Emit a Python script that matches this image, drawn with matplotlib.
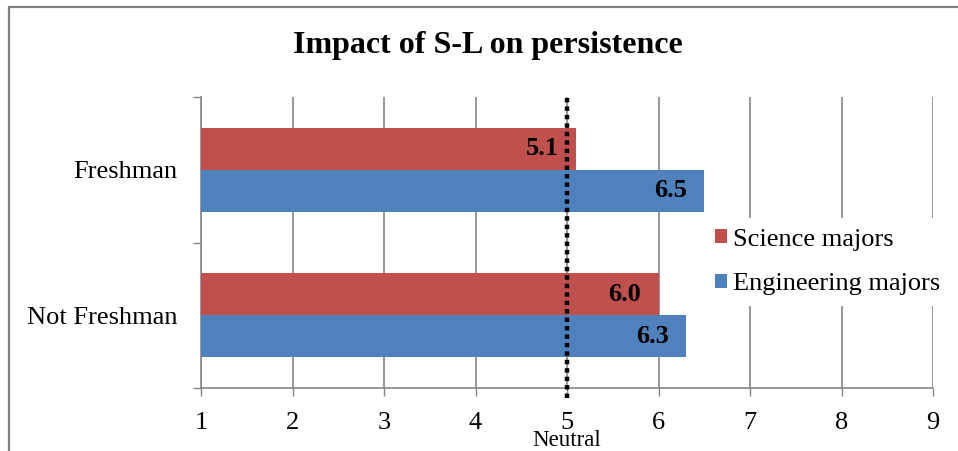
import numpy as np
import matplotlib
matplotlib.use("Agg")
import matplotlib.pyplot as plt
from matplotlib.patches import Rectangle
from matplotlib.transforms import blended_transform_factory

categories = ["Freshman", "Not Freshman"]
series_names = ["Science majors", "Engineering majors"]
science = [5.1, 6.0]
engineering = [6.5, 6.3]
x_ticks = [1, 2, 3, 4, 5, 6, 7, 8, 9]
neutral = 5

RED = "#C0504D"
BLUE = "#4F81BD"
GRAY = "#868686"


def main():
    plt.rcParams["font.family"] = ["Liberation Serif", "DejaVu Serif"]

    fig = plt.figure(figsize=(9.58, 4.51), dpi=100)
    ax = fig.add_axes([201 / 958, 1 - 388 / 451, 732 / 958, 291 / 451])

    # outer chart border (only top and left visible in the crop)
    fig.patches.append(Rectangle((8.5 / 958, -0.1), 1.2, 1.1 - 6.5 / 451,
                                 transform=fig.transFigure, fill=False,
                                 edgecolor="#808080", linewidth=1.6))

    y = np.arange(len(categories))
    h = 0.29
    bars_s = ax.barh(y - h / 2, np.array(science) - 1, height=h, left=1,
                     color=RED, label=series_names[0], zorder=3)
    bars_e = ax.barh(y + h / 2, np.array(engineering) - 1, height=h, left=1,
                     color=BLUE, label=series_names[1], zorder=3)

    for bars, vals in ((bars_s, science), (bars_e, engineering)):
        for b, v in zip(bars, vals):
            ax.annotate(f"{v:.1f}", (v, b.get_y() + b.get_height() / 2),
                        xytext=(-12.5, 0), textcoords="offset points",
                        ha="right", va="center", fontsize=19,
                        fontweight="bold", zorder=5)

    ax.axvline(neutral, ymin=-0.035, ymax=1, color="black", lw=3.2,
               linestyle=(0, (1, 0.9)), clip_on=False, zorder=4)
    ax.text(neutral, 1 - 446 / 451, "Neutral", fontsize=16.5,
            ha="center", va="baseline",
            transform=blended_transform_factory(ax.transData, fig.transFigure))

    ax.set_xlim(1, 9)
    ax.set_ylim(1.5, -0.5)
    ax.set_xticks(x_ticks)
    ax.set_xticklabels([str(t) for t in x_ticks])
    ax.set_yticks([-0.5, 0.5, 1.5])
    ax.set_yticklabels([])
    ax.set_yticks(y, minor=True)
    ax.set_yticklabels(categories, minor=True)

    ax.tick_params(axis="x", length=5.5, width=1, color=GRAY, labelsize=19, pad=11.5)
    ax.tick_params(axis="y", which="major", length=5.5, width=1, color=GRAY)
    ax.tick_params(axis="y", which="minor", length=0, labelsize=19, pad=17)

    ax.grid(axis="x", color=GRAY, linewidth=1.2, zorder=0)
    ax.set_axisbelow(True)
    for s in ("top", "right"):
        ax.spines[s].set_visible(False)
    for s in ("left", "bottom"):
        ax.spines[s].set_color(GRAY)
        ax.spines[s].set_linewidth(1.2)

    fs = 19
    bp = 0.4
    leg = ax.legend(loc="center left",
                    bbox_to_anchor=((715 - bp * fs * 100 / 72 - 201) / 732, (388 - 262) / 291),
                    frameon=True, fontsize=fs, handlelength=0.45, handleheight=0.45,
                    handletextpad=0.25, labelspacing=0.85, borderpad=bp,
                    borderaxespad=0, fancybox=False)
    leg.get_frame().set_facecolor("white")
    leg.get_frame().set_edgecolor("none")
    leg.get_frame().set_alpha(1)
    leg.set_zorder(6)

    fig.text(488 / 958, 1 - 45 / 451, "Impact of S-L on persistence",
             fontsize=23, fontweight="bold", ha="center", va="center")

    fig.savefig("out.png", dpi=100, facecolor="white")


if __name__ == "__main__":
    main()
